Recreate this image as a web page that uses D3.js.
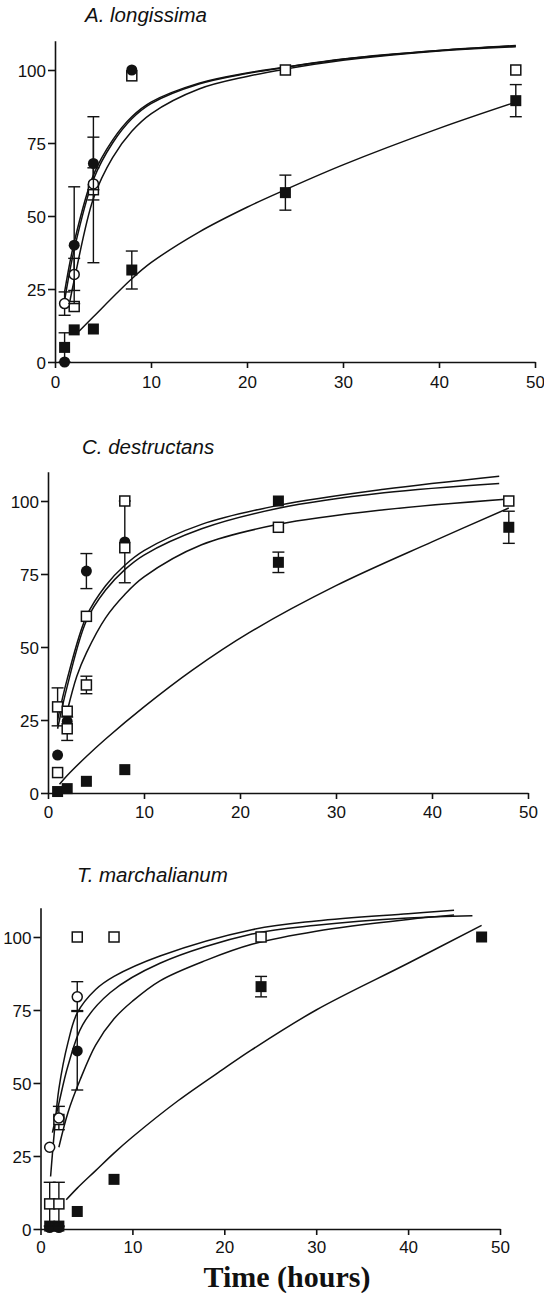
<!DOCTYPE html>
<html><head><meta charset="utf-8">
<script src="https://cdn.jsdelivr.net/npm/d3@7"></script>
<style>body{margin:0;background:#fff}svg{display:block}</style>
</head><body>
<svg id="c" width="544" height="1293"></svg>
<script>
// ---------- DATA ----------
const panelTitles = ["A. longissima", "C. destructans", "T. marchalianum"];
const xTickValues = [0, 10, 20, 30, 40, 50];
const yTickValues = [0, 25, 50, 75, 100];
const xAxisTitle = "Time (hours)";
const times = [1, 2, 4, 8, 24, 48];

// Panel A (A. longissima)
const aFilledCircle = [0, 40, 68, 100, null, null];
const aFilledCircleLo = [null, 20, 59, null, null, null];
const aFilledCircleHi = [null, 60, 77, null, null, null];
const aOpenCircle = [20, 30, 61, null, null, null];
const aOpenCircleLo = [16, 24.5, 55.5, null, null, null];
const aOpenCircleHi = [24, 35.5, 66.5, null, null, null];
const aOpenSquare = [null, 19, 59, 98, 100, 100];
const aOpenSquareLo = [null, null, 34, null, null, null];
const aOpenSquareHi = [null, null, 84, null, null, null];
const aFilledSquare = [5, 11, 11.3, 31.5, 58, 89.5];
const aFilledSquareLo = [0, null, null, 25, 52, 84];
const aFilledSquareHi = [10, null, null, 38, 64, 95];
// fitted curves
const aCurve1T = [1, 2, 4, 6, 8, 10, 15, 20, 24, 30, 40, 48];
const aCurve1Y = [24, 41, 64, 76, 84, 89, 95.5, 99, 101, 103.8, 106.7, 108.2];
const aCurve2T = [1, 2, 4, 6, 8, 10, 15, 20, 24, 30, 40, 48];
const aCurve2Y = [21, 38.5, 62.5, 75, 83.3, 88.5, 95.2, 98.8, 100.9, 103.7, 106.7, 108.4];
const aCurve3T = [1.5, 2, 4, 6, 8, 10, 15, 20, 24, 30, 40, 48];
const aCurve3Y = [20, 28, 56, 70, 79, 85, 93.5, 97.8, 100.3, 103.3, 106.5, 108];
const aCurve4T = [2.5, 4, 8, 10, 15, 20, 24, 30, 40, 48];
const aCurve4Y = [10.5, 15.5, 28.5, 34, 44.5, 53, 59, 67.5, 80, 89];

// Panel C (C. destructans)
const cFilledCircle = [13, 24.5, 76, 86, null, null];
const cFilledCircleLo = [null, null, 70, 72, null, null];
const cFilledCircleHi = [null, null, 82, 100, null, null];
const cOpenSquare1 = [29.5, 28, 60.5, 100, 91, 100];
const cOpenSquare1Lo = [23, null, null, null, null, null];
const cOpenSquare1Hi = [36, null, null, null, null, null];
const cOpenSquare2 = [7, 22, 37, 84, null, null];
const cOpenSquare2Lo = [null, 18, 34, null, null, null];
const cOpenSquare2Hi = [null, 26, 40, null, null, null];
const cFilledSquare1 = [0.5, 1.5, 4, 8, 79, 91];
const cFilledSquare1Lo = [null, null, null, null, 75.5, 85.5];
const cFilledSquare1Hi = [null, null, null, null, 82.5, 96.5];
const cFilledSquare2 = [null, null, null, null, 100, null];
const cCurve1T = [1, 2, 4, 6, 8, 10, 16, 24, 35, 47];
const cCurve1Y = [25, 39, 60.5, 71, 78, 83, 92, 98.5, 104, 108.5];
const cCurve2T = [1, 2, 4, 6, 8, 10, 16, 24, 35, 47];
const cCurve2Y = [22, 36.5, 59, 69.5, 76.5, 81.5, 90.5, 97.5, 102.8, 106];
const cCurve3T = [2, 3, 4, 6, 8, 10, 16, 24, 35, 48];
const cCurve3Y = [28, 40, 48, 60, 68, 74, 85, 92, 97, 100.7];
const cCurve4T = [1.2, 2, 4, 6, 10, 15, 21, 30, 40, 48];
const cCurve4Y = [3, 6, 12.5, 18.5, 29.5, 42, 55, 71, 86, 97.6];

// Panel T (T. marchalianum)
const tOpenCircle = [28, 38, 79.5, null, null, null];
const tOpenCircleLo = [null, null, 74.5, null, null, null];
const tOpenCircleHi = [null, null, 84.7, null, null, null];
const tOpenSquare1 = [8.6, 8.6, 100, 100, 100, null];
const tOpenSquare1Lo = [1, 1, null, null, null, null];
const tOpenSquare1Hi = [16, 16, null, null, null, null];
const tOpenSquare2 = [null, 37.5, null, null, null, null];
const tOpenSquare2Lo = [null, 34, null, null, null, null];
const tOpenSquare2Hi = [null, 42, null, null, null, null];
const tFilledCircle = [0.5, 0.5, 61, null, null, null];
const tFilledCircleLo = [null, null, 47.6, null, null, null];
const tFilledCircleHi = [null, null, 74.8, null, null, null];
const tFilledSquare = [1, 1, 6, 17, 83, 100];
const tFilledSquareLo = [null, null, null, null, 79.5, null];
const tFilledSquareHi = [null, null, null, null, 86.5, null];
const tCurve1T = [1.1, 1.5, 2, 3, 4, 6, 8, 13, 23, 30, 40, 45];
const tCurve1Y = [18, 33, 48, 64, 74, 82, 86.5, 93.5, 102.5, 105.5, 108, 109.2];
const tCurve2T = [1.3, 2, 3, 4.6, 7.6, 13, 23, 30, 40, 47];
const tCurve2Y = [33, 43, 56, 70, 81, 91, 101, 104, 106.5, 107.3];
const tCurve3T = [2, 3, 4.3, 6, 8, 10, 13, 18, 23, 30, 40, 45];
const tCurve3Y = [28, 40, 51, 63, 72, 78, 85, 92, 97.5, 102, 106, 107.5];
const tCurve4T = [2.8, 4, 6, 8, 10, 15, 20, 22.8, 30, 40, 48];
const tCurve4Y = [10, 14, 20, 26, 31.5, 44, 55, 61, 75, 91, 104];

// ---------- DRAW ----------
const svg = d3.select("#c");
svg.append("rect").attr("width", 544).attr("height", 1293).attr("fill", "#fff");

const panels = [
  { title: panelTitles[0], titleX: 85, titleY: 22, x0: 55, x1: 535, y0: 362, ppu: 2.92, fs: 17, lblY: 388,
    curves: [[aCurve1T, aCurve1Y], [aCurve2T, aCurve2Y], [aCurve3T, aCurve3Y], [aCurve4T, aCurve4Y]],
    series: [
      ["fsq", aFilledSquare, aFilledSquareLo, aFilledSquareHi],
      ["osq", aOpenSquare, aOpenSquareLo, aOpenSquareHi],
      ["ocirc", aOpenCircle, aOpenCircleLo, aOpenCircleHi],
      ["fcirc", aFilledCircle, aFilledCircleLo, aFilledCircleHi]
    ]},
  { title: panelTitles[1], titleX: 82, titleY: 454, x0: 48, x1: 528, y0: 793, ppu: 2.92, fs: 17, lblY: 818,
    curves: [[cCurve1T, cCurve1Y], [cCurve2T, cCurve2Y], [cCurve3T, cCurve3Y], [cCurve4T, cCurve4Y]],
    series: [
      ["fsq", cFilledSquare1, cFilledSquare1Lo, cFilledSquare1Hi],
      ["fsq", cFilledSquare2, [], []],
      ["fcirc", cFilledCircle, cFilledCircleLo, cFilledCircleHi],
      ["osq", cOpenSquare1, cOpenSquare1Lo, cOpenSquare1Hi],
      ["osq", cOpenSquare2, cOpenSquare2Lo, cOpenSquare2Hi]
    ]},
  { title: panelTitles[2], titleX: 77, titleY: 882, x0: 40.5, x1: 500, y0: 1229, ppu: 2.92, fs: 17, lblY: 1253,
    curves: [[tCurve1T, tCurve1Y], [tCurve2T, tCurve2Y], [tCurve3T, tCurve3Y], [tCurve4T, tCurve4Y]],
    series: [
      ["fsq", tFilledSquare, tFilledSquareLo, tFilledSquareHi],
      ["fcirc", tFilledCircle, tFilledCircleLo, tFilledCircleHi],
      ["osq", tOpenSquare1, tOpenSquare1Lo, tOpenSquare1Hi],
      ["osq", tOpenSquare2, tOpenSquare2Lo, tOpenSquare2Hi],
      ["ocirc", tOpenCircle, tOpenCircleLo, tOpenCircleHi]
    ]}
];

panels.forEach(p => {
  const x = d3.scaleLinear().domain([0, 50]).range([p.x0, p.x1]);
  const y = d3.scaleLinear().domain([0, 110]).range([p.y0, p.y0 - 110 * p.ppu]);
  const g = svg.append("g");

  g.append("text").attr("x", p.titleX).attr("y", p.titleY)
    .attr("font-family", "Liberation Sans, Arial, sans-serif").attr("font-style", "italic")
    .attr("font-size", 20.5).attr("fill", "#111").text(p.title);

  // axes
  const ya = g.append("g").attr("transform", `translate(${p.x0},0)`)
    .call(d3.axisLeft(y).tickValues(yTickValues).tickSize(7).tickSizeOuter(0).tickPadding(2));
  const xa = g.append("g").attr("transform", `translate(0,${p.y0})`)
    .call(d3.axisBottom(x).tickValues(xTickValues).tickSize(6).tickSizeOuter(0).tickPadding(3));
  [ya, xa].forEach(a => {
    a.selectAll("path, line").attr("stroke", "#111").attr("stroke-width", 1.6);
    a.selectAll("text").attr("font-family", "Liberation Sans, Arial, sans-serif")
      .attr("font-size", p.fs).attr("fill", "#111");
  });
  xa.selectAll("text").attr("dy", null).attr("y", p.lblY - p.y0);
  ya.selectAll("text").attr("dy", "0.36em");

  // curves
  const line = d3.line().x(d => x(d[0])).y(d => y(d[1])).curve(d3.curveCatmullRom.alpha(0.5));
  p.curves.forEach(([ts, ys]) => {
    g.append("path").datum(ts.map((t, i) => [t, ys[i]]))
      .attr("d", line).attr("fill", "none").attr("stroke", "#111").attr("stroke-width", 1.5);
  });

  // error bars and markers
  p.series.forEach(([shape, vals, lo, hi]) => {
    times.forEach((t, i) => {
      const v = vals[i];
      if (v == null) return;
      const cx = x(t);
      if (lo[i] != null && hi[i] != null) {
        g.append("line").attr("x1", cx).attr("x2", cx).attr("y1", y(lo[i])).attr("y2", y(hi[i]))
          .attr("stroke", "#111").attr("stroke-width", 1.4);
        [lo[i], hi[i]].forEach(e => g.append("line").attr("x1", cx - 6).attr("x2", cx + 6)
          .attr("y1", y(e)).attr("y2", y(e)).attr("stroke", "#111").attr("stroke-width", 1.4));
      }
      const cy = y(v);
      if (shape === "fcirc") g.append("circle").attr("cx", cx).attr("cy", cy).attr("r", 5.5).attr("fill", "#111");
      if (shape === "ocirc") g.append("circle").attr("cx", cx).attr("cy", cy).attr("r", 5)
        .attr("fill", "#fff").attr("stroke", "#111").attr("stroke-width", 1.5);
      if (shape === "fsq") g.append("rect").attr("x", cx - 5.5).attr("y", cy - 5.5).attr("width", 11).attr("height", 11).attr("fill", "#111");
      if (shape === "osq") g.append("rect").attr("x", cx - 5).attr("y", cy - 5).attr("width", 10).attr("height", 10)
        .attr("fill", "#fff").attr("stroke", "#111").attr("stroke-width", 1.5);
    });
  });
});

svg.append("text").attr("x", 287).attr("y", 1287).attr("text-anchor", "middle")
  .attr("font-family", "Liberation Serif, Times New Roman, serif").attr("font-weight", "bold")
  .attr("font-size", 30).attr("fill", "#111").text(xAxisTitle);
</script>
</body></html>
